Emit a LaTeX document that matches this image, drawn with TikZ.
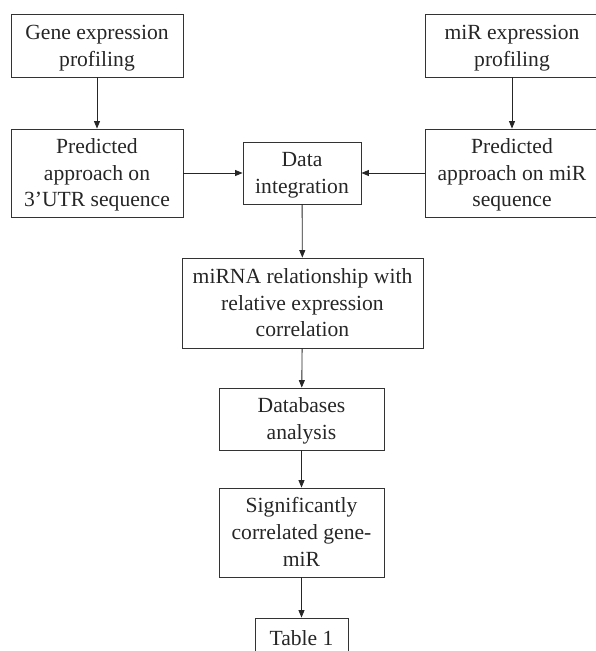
\documentclass[tikz,border=0pt]{standalone}
\usepackage{fontspec}
\setmainfont{Liberation Serif}
\usetikzlibrary{arrows.meta}
\newcommand{\bxt}[1]{\raisebox{-1.8pt}[\height][\depth]{\begin{tabular}{@{}c@{}}#1\end{tabular}}}
\begin{document}
\begin{tikzpicture}[x=1pt,y=-1pt,
  boxnode/.style={draw=black!80, line width=0.85pt, inner sep=0pt, align=center,
    font=\fontsize{21.6}{26.8}\selectfont, text=black!85},
  conn/.style={draw=black!85, line width=0.85pt, -{Triangle[length=7.5pt,width=6pt]}}]
\useasboundingbox (0,0) rectangle (595,651);
\node[boxnode, minimum width=172pt, minimum height=63pt] (gene) at (97,45.5) {\bxt{Gene expression\\profiling}};
\node[boxnode, minimum width=174pt, minimum height=63pt] (mir) at (512,45.5) {\bxt{miR expression\\profiling}};
\node[boxnode, minimum width=172pt, minimum height=88pt] (pred3) at (97,173) {\bxt{Predicted\\approach on\\3’UTR sequence}};
\node[boxnode, minimum width=118pt, minimum height=62pt] (data) at (302,173) {\bxt{Data\\integration}};
\node[boxnode, minimum width=174pt, minimum height=88pt] (predm) at (512,173) {\bxt{Predicted\\approach on miR\\sequence}};
\node[boxnode, minimum width=241pt, minimum height=90pt] (rel) at (302.5,303) {\bxt{miRNA relationship with\\relative expression\\correlation}};
\node[boxnode, minimum width=165pt, minimum height=62pt] (db) at (301.5,419) {\bxt{Databases\\analysis}};
\node[boxnode, minimum width=165pt, minimum height=89pt] (sig) at (301.5,532.5) {\bxt{Significantly\\correlated gene-\\miR}};
\node[boxnode, minimum width=93pt, minimum height=40pt] (tab) at (301.5,638) {\bxt{Table 1}};
\draw[conn] (gene) -- (pred3);
\draw[conn] (mir) -- (predm);
\draw[conn] (pred3) -- (data);
\draw[conn] (predm) -- (data);
\draw[conn] (data) -- (rel);
\draw[conn] (rel) -- (db);
\draw[conn] (db) -- (sig);
\draw[conn] (sig) -- (tab);
\end{tikzpicture}
\end{document}
